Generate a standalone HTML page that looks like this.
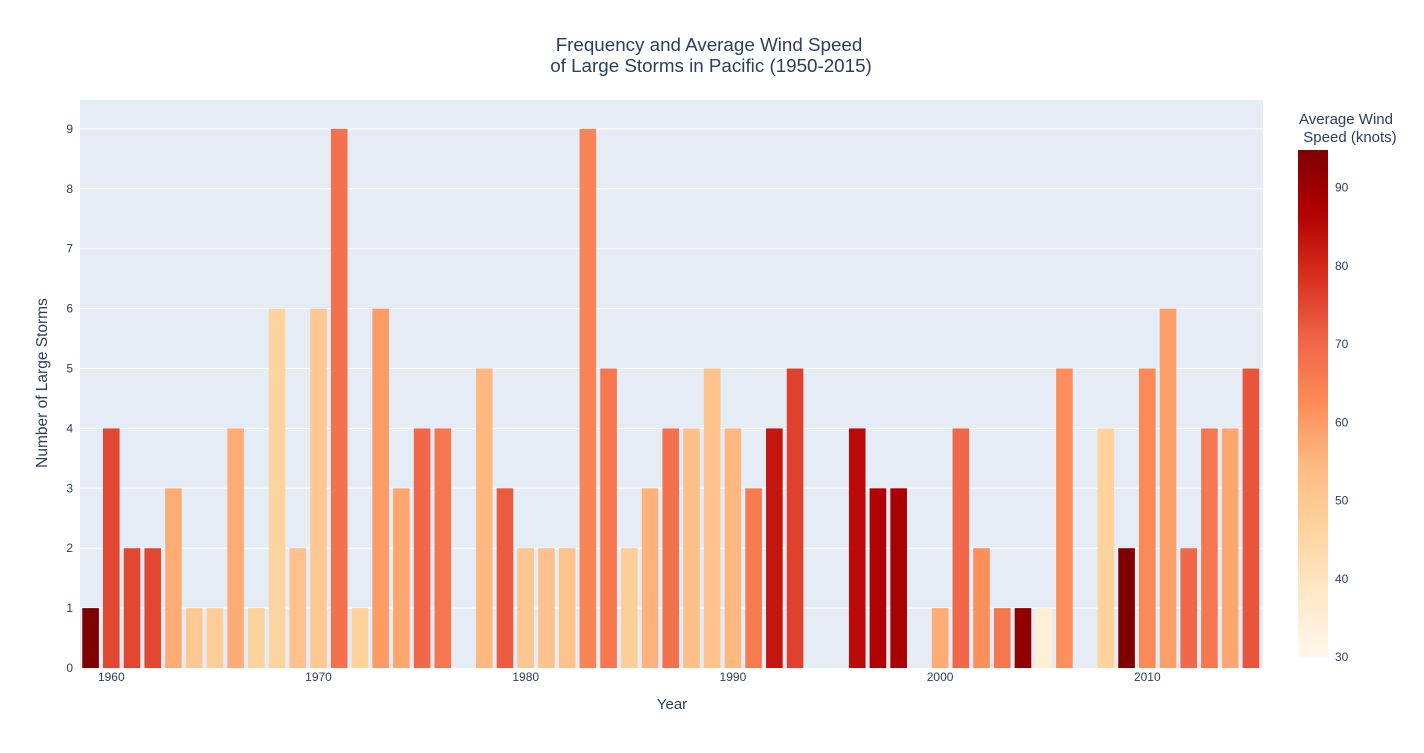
<!DOCTYPE html>
<html><head><meta charset="utf-8"><style>
body{margin:0;background:#fff;font-family:"Liberation Sans",Arial,sans-serif;}
svg text{font-family:"Liberation Sans",Arial,sans-serif;fill:#2a3f5f;}
</style></head><body>
<svg id="chart" width="1424" height="748">
<defs><linearGradient id="cg" x1="0" y1="1" x2="0" y2="0">
<stop offset="0" stop-color="#fff7ec"/><stop offset="0.125" stop-color="#fee8c8"/><stop offset="0.25" stop-color="#fdd49e"/><stop offset="0.375" stop-color="#fdbb84"/><stop offset="0.5" stop-color="#fc8d59"/><stop offset="0.625" stop-color="#ef6548"/><stop offset="0.75" stop-color="#d7301f"/><stop offset="0.875" stop-color="#b30000"/><stop offset="1" stop-color="#7f0000"/></linearGradient></defs>
<rect x="80" y="100" width="1183" height="568" fill="#e5ecf6"/>
<g id="grid"></g><g id="bars"></g><g id="axes"></g>
<text x="709" y="51" font-size="18.8" text-anchor="middle">Frequency and Average Wind Speed</text>
<text x="711" y="72" font-size="18.8" text-anchor="middle">of Large Storms in Pacific (1950-2015)</text>
<text x="672" y="709" font-size="15" text-anchor="middle">Year</text>
<text x="47" y="383" font-size="15.5" text-anchor="middle" transform="rotate(-90 47 383)">Number of Large Storms</text>
<text x="1346" y="124" font-size="15" text-anchor="middle">Average Wind</text>
<text x="1350" y="142" font-size="15" text-anchor="middle">Speed (knots)</text>
<rect x="1298" y="150" width="30" height="507" fill="url(#cg)"/>
<g id="cbticks"></g>
</svg>
<script>
const years=[1959,1960,1961,1962,1963,1964,1965,1966,1967,1968,1969,1970,1971,1972,1973,1974,1975,1976,1977,1978,1979,1980,1981,1982,1983,1984,1985,1986,1987,1988,1989,1990,1991,1992,1993,1994,1995,1996,1997,1998,1999,2000,2001,2002,2003,2004,2005,2006,2007,2008,2009,2010,2011,2012,2013,2014,2015];
const counts=[1,4,2,2,3,1,1,4,1,6,2,6,9,1,6,3,4,4,0,5,3,2,2,2,9,5,2,3,4,4,5,4,3,4,5,0,0,4,3,3,0,1,4,2,1,1,1,5,0,4,2,5,6,2,4,4,5];
const speeds=[95,75,75,75,57,50,48,57,47,46,52,50,68,47,60,58,70,67,0,55,72,51,52,52,64,67,48,56,68,53,52,55,66,83,76,0,0,85,87,88,0,57,70,62,67,92,35,62,0,47,95,63,59,70,67,58,73];
const yTicks=[0,1,2,3,4,5,6,7,8,9];
const xTicks=[1960,1970,1980,1990,2000,2010];
const cbTicks=[30,40,50,60,70,80,90];
const NS="http://www.w3.org/2000/svg";
const X=v=>111.3+(v-1960)*20.72, Y=v=>668-v*59.9;
const cmin=30,cmax=94.8, CY=v=>657-(v-cmin)/(cmax-cmin)*507;
const stops=[[255,247,236],[254,232,200],[253,212,158],[253,187,132],[252,141,89],[239,101,72],[215,48,31],[179,0,0],[127,0,0]];
function col(v){let t=Math.max(0,Math.min(1,(v-cmin)/(cmax-cmin)))*8;let i=Math.min(7,Math.floor(t)),f=t-i;const a=stops[i],b=stops[i+1];return `rgb(${a.map((c,k)=>Math.round(c+(b[k]-c)*f)).join(',')})`;}
function mk(tag,attrs,parent){const e=document.createElementNS(NS,tag);for(const k in attrs)e.setAttribute(k,attrs[k]);document.getElementById(parent).appendChild(e);return e;}
yTicks.forEach(t=>{
 if(t>0){const l=mk('line',{x1:80,x2:1263,y1:Y(t),y2:Y(t),stroke:'#fff','stroke-width':1},'grid');
 
 }
 const tx=mk('text',{x:73,y:Y(t)+4,'font-size':12,'text-anchor':'end'},'axes');tx.textContent=t;
 
 
});
xTicks.forEach(t=>{const tx=mk('text',{x:X(t),y:681,'font-size':12,'text-anchor':'middle'},'axes');tx.textContent=t;
 
 });
years.forEach((yr,i)=>{const h=counts[i]*59.9;
 const r=mk('rect',{x:X(yr)-8.3,y:668-h,width:16.6,height:Math.max(h,0),fill:col(speeds[i])},'bars');
 
 });
cbTicks.forEach(t=>{const tx=mk('text',{x:1335,y:CY(t)+4,'font-size':12},'cbticks');tx.textContent=t;
 
 });
</script>
</body></html>
